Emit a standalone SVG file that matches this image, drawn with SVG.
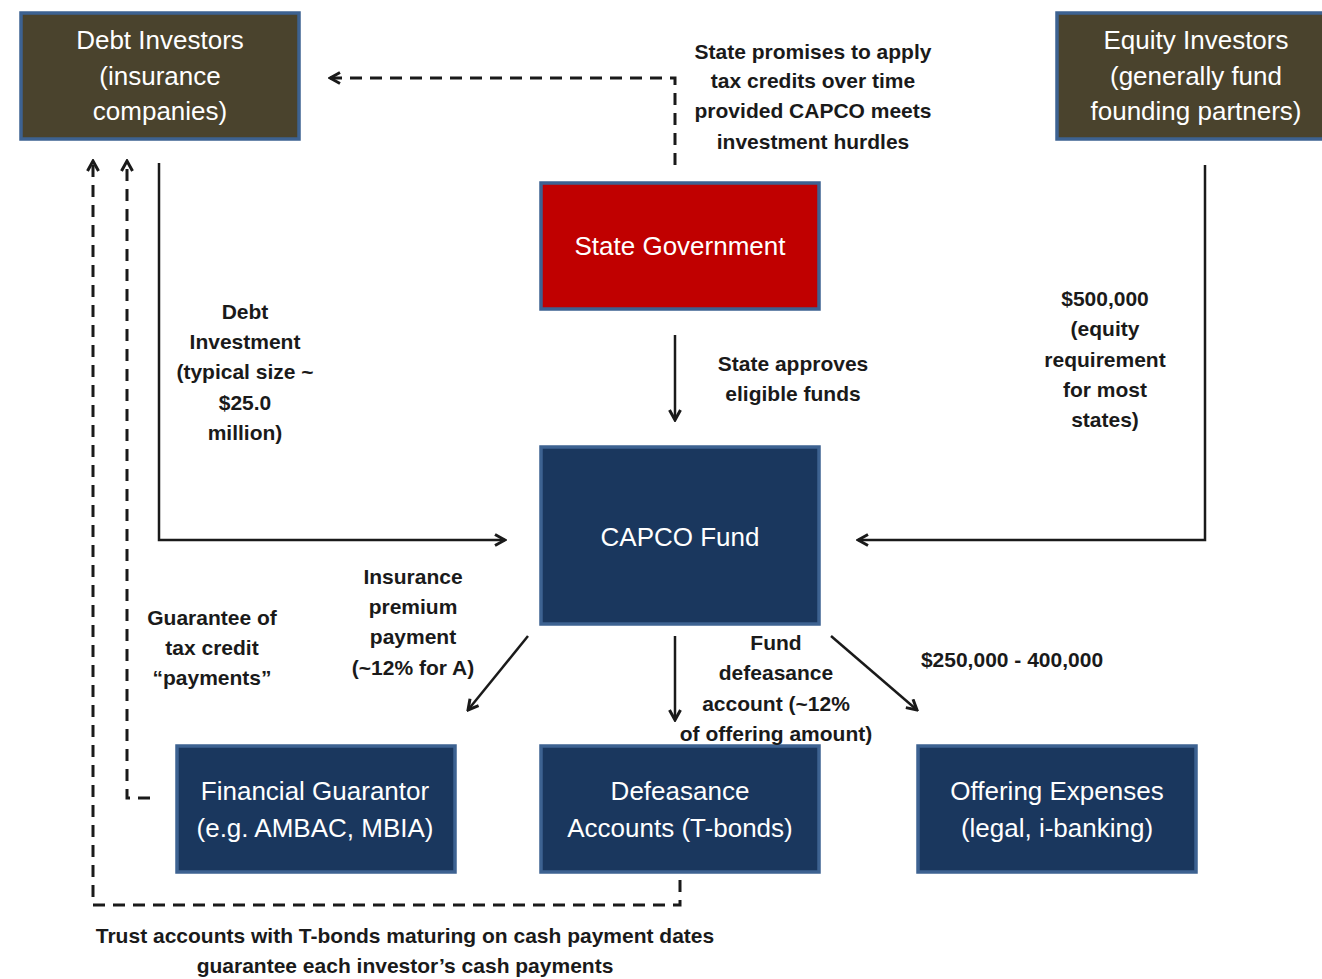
<svg xmlns="http://www.w3.org/2000/svg" width="1322" height="979" viewBox="0 0 1322 979">
<style>
.box{stroke:#3d6291;stroke-width:3.5}
.olive{fill:#4a432d}
.navy{fill:#1a375e}
.red{fill:#c00000}
.nt{font-family:"Liberation Sans",Arial,sans-serif;font-size:26px;fill:#fff;text-anchor:middle}
.lb{font-family:"Liberation Sans",Arial,sans-serif;font-size:21px;font-weight:bold;fill:#1a1a1a;text-anchor:middle}
.ln{fill:none;stroke:#1a1a1a;stroke-width:2.5}
.ds{stroke-width:3;stroke-dasharray:12,8}
</style>
<defs>
<marker id="ah" viewBox="0 0 14 14" refX="12" refY="7" markerWidth="14" markerHeight="14" markerUnits="userSpaceOnUse" orient="auto">
<path d="M2,1.5 L12,7 L2,12.5" fill="none" stroke="#1a1a1a" stroke-width="3"/>
</marker>
</defs>
<g id="debt"><rect class="box olive" x="21" y="13" width="278" height="126"/>
<text class="nt"><tspan x="160" y="49">Debt Investors</tspan><tspan x="160" y="85">(insurance</tspan><tspan x="160" y="120">companies)</tspan></text></g>
<g id="equity"><rect class="box olive" x="1057" y="13" width="280" height="126"/>
<text class="nt"><tspan x="1196" y="49">Equity Investors</tspan><tspan x="1196" y="85">(generally fund</tspan><tspan x="1196" y="120">founding partners)</tspan></text></g>
<g id="state"><rect class="box red" x="541" y="183" width="278" height="126"/>
<text class="nt" x="680" y="255">State Government</text></g>
<g id="capco"><rect class="box navy" x="541" y="447" width="278" height="177"/>
<text class="nt" x="680" y="546">CAPCO Fund</text></g>
<g id="guarantor"><rect class="box navy" x="177" y="746" width="278" height="126"/>
<text class="nt"><tspan x="315" y="800">Financial Guarantor</tspan><tspan x="315" y="837">(e.g. AMBAC, MBIA)</tspan></text></g>
<g id="defeasance"><rect class="box navy" x="541" y="746" width="278" height="126"/>
<text class="nt"><tspan x="680" y="800">Defeasance</tspan><tspan x="680" y="837">Accounts (T-bonds)</tspan></text></g>
<g id="offering"><rect class="box navy" x="918" y="746" width="278" height="126"/>
<text class="nt"><tspan x="1057" y="800">Offering Expenses</tspan><tspan x="1057" y="837">(legal, i-banking)</tspan></text></g>
<g id="connectors">
<path class="ln ds" d="M675,165 L675,78 L330,78" marker-end="url(#ah)"/>
<path class="ln ds" d="M680,880 L680,905 L93,905 L93,161" marker-end="url(#ah)"/>
<path class="ln ds" d="M150,798 L127,798 L127,161" marker-end="url(#ah)"/>
<path class="ln" d="M159,163 L159,540 L505,540" marker-end="url(#ah)"/>
<path class="ln" d="M1205,165 L1205,540 L858,540" marker-end="url(#ah)"/>
<path class="ln" d="M675,335 L675,420" marker-end="url(#ah)"/>
<path class="ln" d="M528,636 L468,710" marker-end="url(#ah)"/>
<path class="ln" d="M675,636 L675,720" marker-end="url(#ah)"/>
<path class="ln" d="M831,636 L917,710" marker-end="url(#ah)"/>
</g>
<g id="labels">
<text class="lb"><tspan x="813" y="59">State promises to apply</tspan><tspan x="813" y="88">tax credits over time</tspan><tspan x="813" y="118">provided CAPCO meets</tspan><tspan x="813" y="149">investment hurdles</tspan></text>
<text class="lb"><tspan x="245" y="319">Debt</tspan><tspan x="245" y="349">Investment</tspan><tspan x="245" y="379">(typical size ~</tspan><tspan x="245" y="410">$25.0</tspan><tspan x="245" y="440">million)</tspan></text>
<text class="lb"><tspan x="793" y="371">State approves</tspan><tspan x="793" y="401">eligible funds</tspan></text>
<text class="lb"><tspan x="1105" y="306">$500,000</tspan><tspan x="1105" y="336">(equity</tspan><tspan x="1105" y="367">requirement</tspan><tspan x="1105" y="397">for most</tspan><tspan x="1105" y="427">states)</tspan></text>
<text class="lb"><tspan x="413" y="584">Insurance</tspan><tspan x="413" y="614">premium</tspan><tspan x="413" y="644">payment</tspan><tspan x="413" y="675">(~12% for A)</tspan></text>
<text class="lb"><tspan x="212" y="625">Guarantee of</tspan><tspan x="212" y="655">tax credit</tspan><tspan x="212" y="685">“payments”</tspan></text>
<text class="lb"><tspan x="776" y="650">Fund</tspan><tspan x="776" y="680">defeasance</tspan><tspan x="776" y="711">account (~12%</tspan><tspan x="776" y="741">of offering amount)</tspan></text>
<text class="lb" x="1012" y="667">$250,000 - 400,000</text>
<text class="lb"><tspan x="405" y="943">Trust accounts with T-bonds maturing on cash payment dates</tspan><tspan x="405" y="973">guarantee each investor’s cash payments</tspan></text>
</g>
</svg>
